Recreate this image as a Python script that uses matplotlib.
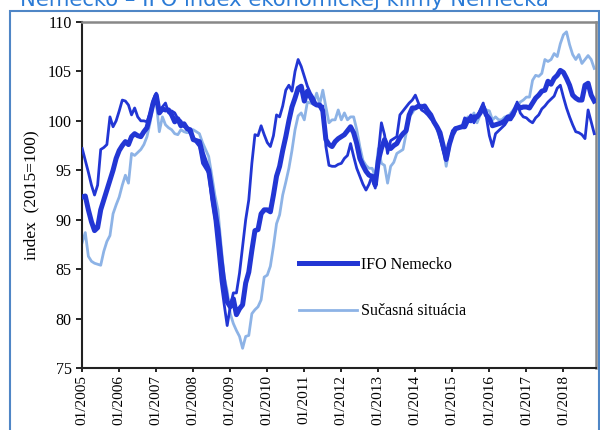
import matplotlib.pyplot as plt
from matplotlib.patches import Rectangle

# monthly values, 01/2005 - 11/2018
klima = [
    92.3, 92.4, 91.0, 89.8, 88.9, 89.2, 91.0, 92.0, 93.0, 94.0, 95.0, 96.2,
    97.0, 97.5, 97.9, 97.6, 98.4, 98.7, 98.5, 98.4, 98.9, 99.3, 100.5, 101.8,
    102.6, 100.8, 101.2, 101.1, 101.1, 100.6, 99.9, 100.2, 99.5, 99.7, 99.2, 99.1,
    98.1, 98.0, 97.9, 96.7, 95.8, 95.0, 93.0, 91.0, 89.0, 86.0, 83.5, 81.7,
    81.2, 82.0, 80.4, 81.0, 81.4, 83.6, 84.7, 86.9, 88.9, 89.0, 90.6, 91.0,
    91.0, 90.8, 92.5, 94.4, 95.4, 97.0, 98.4, 100.0, 101.4, 102.3, 103.3, 103.5,
    102.0, 103.0, 102.4, 101.8, 101.6, 101.6, 101.0, 98.1, 97.6, 97.4, 97.9, 98.2,
    98.4, 98.6, 99.0, 99.4, 98.8, 97.7, 96.2, 95.5, 94.9, 94.5, 94.4, 93.5,
    96.0, 97.2, 98.1, 97.4, 97.2, 97.5, 97.7, 98.3, 98.7, 99.0, 100.6, 101.3,
    101.3, 101.5, 101.4, 101.5, 101.0, 100.6, 99.9, 99.4, 98.8, 97.5, 96.1, 97.6,
    98.6, 99.2, 99.3, 99.4, 99.4, 100.1, 100.0, 100.4, 100.4, 100.8, 101.4, 100.6,
    100.2, 99.5, 99.6, 99.7, 99.8, 100.0, 100.4, 100.4, 100.9, 101.6, 101.3, 101.4,
    101.4, 101.3, 101.8, 102.3, 102.6, 103.0, 103.1, 104.0, 103.7, 104.3, 104.6, 105.1,
    104.9, 104.3, 103.6, 102.6, 102.3, 102.1, 102.1, 103.6, 103.8, 102.6, 102.0,
]
ocakavania = [
    97.2, 96.0, 94.8, 93.5, 92.5, 93.5, 97.1, 97.3, 97.6, 100.4, 99.4, 100.0,
    101.0, 102.1, 102.0, 101.6, 100.6, 101.3, 100.4, 100.0, 100.0, 99.9, 100.8, 102.1,
    102.8, 101.1, 101.4, 101.8, 100.8, 101.0, 100.8, 100.2, 100.0, 99.4, 99.4, 98.7,
    98.4, 97.8, 97.4, 95.7, 95.2, 94.7, 92.0, 90.0, 87.0, 83.8, 81.5, 79.3,
    81.2, 82.6, 82.6, 84.6, 87.3, 90.0, 92.0, 95.7, 98.6, 98.5, 99.5, 98.6,
    97.8, 97.4, 98.5, 100.6, 100.4, 101.5, 103.1, 103.6, 103.0, 105.0, 106.2, 105.5,
    104.5, 103.5, 102.8, 102.3, 101.6, 101.4, 101.5, 97.4, 95.5, 95.4, 95.4, 95.6,
    95.7, 96.2, 96.5, 97.7, 96.4, 95.2, 94.4, 93.6, 93.0, 93.6, 94.5, 93.2,
    96.7, 99.8, 98.6, 96.7, 98.0, 98.2, 98.4, 100.6, 101.0, 101.4, 101.8, 102.1,
    102.6, 101.8, 101.1, 100.9, 100.6, 100.2, 99.9, 99.3, 98.2, 97.0, 96.0, 97.7,
    99.0, 99.3, 99.3, 99.3, 100.3, 100.1, 100.6, 99.8, 100.4, 101.1, 101.8, 100.4,
    98.5, 97.4, 98.7, 99.0, 99.3, 99.6, 100.1, 100.1, 100.6, 101.9, 100.8, 100.4,
    100.3, 100.0, 99.8, 100.3, 100.6, 101.2, 101.5, 101.9, 102.2, 102.5, 103.3, 103.6,
    102.4, 101.3, 100.4, 99.6, 98.9, 98.8, 98.6, 98.2, 101.1, 99.9, 98.7,
]
situacia = [
    87.7, 88.7, 86.3, 85.8, 85.6, 85.5, 85.4, 86.8, 87.8, 88.4, 90.6, 91.5,
    92.3, 93.5, 94.5, 93.7, 96.7, 96.5, 96.8, 97.1, 97.6, 98.4, 99.8, 101.6,
    101.9, 98.9, 100.4, 99.6, 99.3, 99.1, 98.7, 98.6, 99.1, 98.9, 98.8, 99.0,
    99.1, 98.9, 98.7, 97.8, 97.1, 96.4, 94.5, 92.5, 91.0, 87.5, 84.3, 82.8,
    80.5, 79.5, 78.8, 78.2, 77.0, 78.2, 78.3, 80.5, 80.9, 81.2, 81.9, 84.2,
    84.4, 85.3, 87.3, 89.6, 90.5, 92.5, 93.8, 95.2, 97.0, 99.1, 100.5, 100.8,
    100.1, 101.9, 101.8, 101.7, 102.8, 101.7, 103.1, 101.4, 99.8, 100.1, 100.1, 101.1,
    100.1, 100.8, 100.1, 100.4, 100.4, 99.1, 97.4, 96.0, 95.5, 95.2, 95.2, 94.4,
    97.2, 95.7, 95.5, 93.7, 95.4, 95.8, 96.7, 96.9, 97.1, 98.7, 100.4, 100.8,
    101.3, 101.4, 101.6, 101.3, 100.8, 100.4, 99.8, 99.1, 98.2, 97.4, 95.4, 97.2,
    98.7, 99.2, 99.3, 99.3, 99.5, 100.4, 100.1, 100.8, 99.8, 100.6, 101.4, 101.1,
    101.0, 100.1, 100.4, 100.1, 100.1, 100.4, 100.4, 100.8, 101.2, 101.4, 101.9, 102.1,
    102.4, 102.4, 104.1, 104.6, 104.5, 104.8, 106.2, 106.0, 106.2, 106.8, 106.5, 107.8,
    108.7, 109.0, 107.7, 106.7, 106.2, 106.7, 105.8, 106.2, 106.6, 106.2, 105.3,
]
roky = ['01/2005', '01/2006', '01/2007', '01/2008', '01/2009', '01/2010', '01/2011',
        '01/2012', '01/2013', '01/2014', '01/2015', '01/2016', '01/2017', '01/2018']

mesiace = list(range(len(klima)))
tmava = '#2236d4'
svetla = '#8db3e6'

fig = plt.figure(figsize=(6, 4.3), dpi=100)
ax = fig.add_axes([0.137, 0.144, 0.856, 0.805])

ax.plot(mesiace, situacia, color=svetla, lw=2, label='Sučasná situácia', zorder=2)
ax.plot(mesiace, ocakavania, color=tmava, lw=2, zorder=3)
ax.plot(mesiace, klima, color=tmava, lw=3.6, label='IFO Nemecko', zorder=4)

ax.set_xlim(0, 166.5)
ax.set_ylim(75, 110)
ax.set_yticks(range(75, 111, 5))
ax.set_xticks(range(0, 12 * len(roky), 12))
ax.set_xticklabels(roky, rotation=90)
ax.tick_params(axis='y', labelsize=11.5, direction='out', length=4, width=1.2)
ax.tick_params(axis='x', labelsize=11, direction='out', length=3, width=1.2, pad=2)
for lbl in ax.get_xticklabels() + ax.get_yticklabels():
    lbl.set_fontfamily('Liberation Serif')
ax.set_ylabel('index  (2015=100)', fontsize=12.5, fontfamily='Liberation Serif', labelpad=6)

for s in ['left', 'bottom']:
    ax.spines[s].set_color('#222222')
    ax.spines[s].set_linewidth(1.5)
for s in ['top', 'right']:
    ax.spines[s].set_color('#888888')
    ax.spines[s].set_linewidth(1.8)

h, l = ax.get_legend_handles_labels()
ax.legend(h[::-1], l[::-1], loc='upper left', bbox_to_anchor=(0.41, 0.34), frameon=False,
          prop={'family': 'Liberation Serif', 'size': 11.5}, handlelength=3.6,
          handletextpad=0.3, labelspacing=1.9, borderaxespad=0)

# ramcek a nadpis
fig.patches.append(Rectangle((10 / 600, -0.1), 589 / 600, 1 - 11.5 / 430 + 0.1,
                             transform=fig.transFigure, fill=False,
                             edgecolor='#4f86c6', lw=1.5, zorder=0))
fig.text(20 / 600, 1 - 6 / 430, 'Nemecko – IFO index ekonomickej klímy Nemecka',
         color='#2b7bd6', fontsize=15.2, va='baseline', ha='left')

fig.savefig('out.png', dpi=100)
